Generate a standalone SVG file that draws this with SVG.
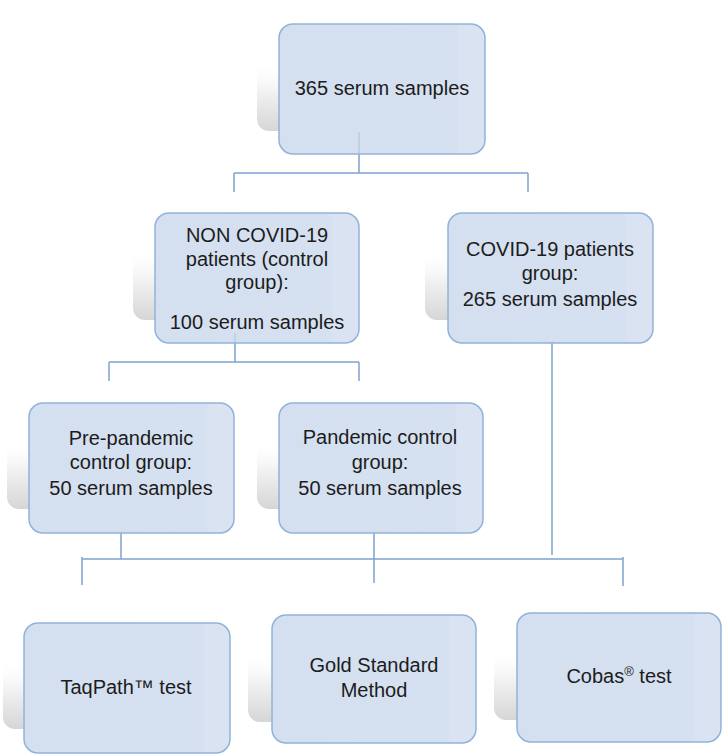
<svg xmlns="http://www.w3.org/2000/svg" width="725" height="755" viewBox="0 0 725 755">
  <defs>
    <linearGradient id="shadowGrad" x1="0" y1="0" x2="0" y2="1">
      <stop offset="0" stop-color="#ffffff" stop-opacity="0"/>
      <stop offset="0.45" stop-color="#f1f1f1" stop-opacity="1"/>
      <stop offset="1" stop-color="#d6d6d6" stop-opacity="1"/>
    </linearGradient>
    <linearGradient id="boxGrad" x1="0" y1="0" x2="1" y2="0">
      <stop offset="0" stop-color="#d4dff0"/>
      <stop offset="0.86" stop-color="#d5e0f0"/>
      <stop offset="0.88" stop-color="#dae3f2"/>
      <stop offset="1" stop-color="#dae3f2"/>
    </linearGradient>
  </defs>
  <style>
    .shadow { fill: url(#shadowGrad); }
    .box { fill: url(#boxGrad); stroke: #92b2d9; stroke-width: 1.5; }
    .lbl { font-family: "Liberation Sans", Arial, sans-serif; font-size: 20px; fill: #1c1c1c; text-anchor: middle; }
    .conn { stroke: #7ea2cf; stroke-width: 1.5; fill: none; }
    .inner { stroke: #b3c7e3; stroke-width: 1.2; fill: none; }
  </style>

  <rect width="725" height="755" fill="#ffffff"/>

  <g id="connectors">
    <path class="conn" d="M359,154 V173 M234,173 H528 M234,173 V192 M528,173 V192"/>
    <path class="conn" d="M235,343 V362 M109,362 H359 M109,362 V381 M359,362 V381"/>
    <path class="conn" d="M121,533 V559 M374,533 V583 M552,343 V555"/>
    <path class="conn" d="M82,559 H623 M82,557 V585 M623,557 V586"/>
  </g>

  <g id="n365">
    <rect class="shadow" x="257" y="60" width="120" height="71" rx="12"/>
    <rect class="box" x="279" y="24" width="206" height="130" rx="14"/>
    <line class="inner" x1="359" y1="132" x2="359" y2="153"/>
    <text class="lbl" x="382" y="95">365 serum samples</text>
  </g>

  <g id="noncovid">
    <rect class="shadow" x="133" y="249" width="120" height="71" rx="12"/>
    <rect class="box" x="155" y="213" width="204" height="130" rx="14"/>
    <line class="inner" x1="235" y1="333" x2="235" y2="342"/>
    <text class="lbl" x="257" y="242">NON COVID-19</text>
    <text class="lbl" x="257" y="266">patients (control</text>
    <text class="lbl" x="257" y="289">group):</text>
    <text class="lbl" x="257" y="329">100 serum samples</text>
  </g>

  <g id="covid">
    <rect class="shadow" x="425" y="249" width="120" height="71" rx="12"/>
    <rect class="box" x="448" y="213" width="205" height="130" rx="14"/>
    <text class="lbl" x="550" y="256">COVID-19 patients</text>
    <text class="lbl" x="550" y="280">group:</text>
    <text class="lbl" x="550" y="306">265 serum samples</text>
  </g>

  <g id="prepandemic">
    <rect class="shadow" x="7" y="439" width="120" height="70" rx="12"/>
    <rect class="box" x="29" y="403" width="205" height="130" rx="14"/>
    <text class="lbl" x="131" y="445">Pre-pandemic</text>
    <text class="lbl" x="131" y="469">control group:</text>
    <text class="lbl" x="131" y="495">50 serum samples</text>
  </g>

  <g id="pandemic">
    <rect class="shadow" x="257" y="439" width="120" height="70" rx="12"/>
    <rect class="box" x="279" y="403" width="204" height="130" rx="14"/>
    <text class="lbl" x="380" y="444">Pandemic control</text>
    <text class="lbl" x="380" y="469">group:</text>
    <text class="lbl" x="380" y="495">50 serum samples</text>
  </g>

  <g id="taqpath">
    <rect class="shadow" x="3" y="659" width="120" height="70" rx="12"/>
    <rect class="box" x="24" y="623" width="206" height="130" rx="14"/>
    <text class="lbl" x="126" y="694">TaqPath™ test</text>
  </g>

  <g id="gold">
    <rect class="shadow" x="248" y="651" width="120" height="71" rx="12"/>
    <rect class="box" x="272" y="615" width="204" height="128" rx="14"/>
    <text class="lbl" x="374" y="672">Gold Standard</text>
    <text class="lbl" x="374" y="697">Method</text>
  </g>

  <g id="cobas">
    <rect class="shadow" x="494" y="649" width="120" height="71" rx="12"/>
    <rect class="box" x="517" y="613" width="204" height="129" rx="14"/>
    <text class="lbl" x="619" y="683">Cobas<tspan font-size="13" dy="-7">®</tspan><tspan dy="7"> test</tspan></text>
  </g>
</svg>
